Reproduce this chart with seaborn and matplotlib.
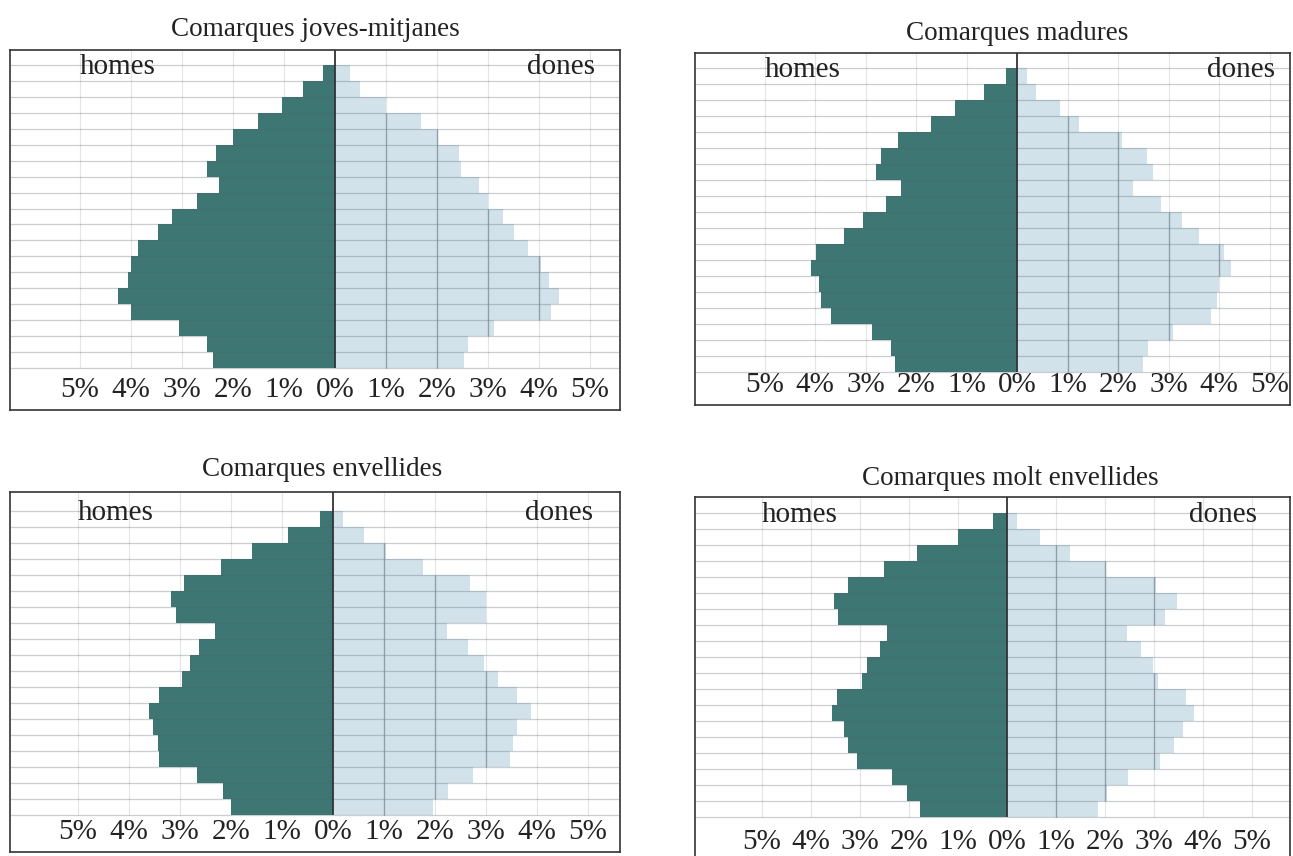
import numpy as np
import pandas as pd
import matplotlib.pyplot as plt
from matplotlib.collections import LineCollection
import seaborn as sns

# Age groups, top (oldest) to bottom (youngest)
edats = ['90+', '85-89', '80-84', '75-79', '70-74', '65-69', '60-64', '55-59', '50-54', '45-49',
         '40-44', '35-39', '30-34', '25-29', '20-24', '15-19', '10-14', '5-9', '0-4']

# % of population
homes_joves = [0.24, 0.63, 1.04, 1.5, 2.0, 2.33, 2.5, 2.27, 2.7, 3.2,
               3.47, 3.86, 4.0, 4.06, 4.25, 4.0, 3.06, 2.5, 2.4]
dones_joves = [0.3, 0.5, 1.0, 1.69, 2.02, 2.43, 2.47, 2.82, 3.0, 3.3,
               3.5, 3.78, 4.04, 4.2, 4.4, 4.23, 3.12, 2.6, 2.53]

homes_madures = [0.22, 0.65, 1.23, 1.71, 2.35, 2.69, 2.8, 2.3, 2.6, 3.04,
                 3.42, 3.98, 4.08, 3.92, 3.88, 3.69, 2.88, 2.5, 2.42]
dones_madures = [0.2, 0.38, 0.86, 1.23, 2.08, 2.58, 2.69, 2.3, 2.85, 3.27,
                 3.6, 4.1, 4.23, 4.0, 3.96, 3.85, 3.08, 2.6, 2.5]

homes_envellides = [0.25, 0.88, 1.58, 2.19, 2.92, 3.17, 3.08, 2.31, 2.62, 2.81,
                    2.96, 3.42, 3.6, 3.52, 3.44, 3.42, 2.67, 2.16, 2.0]
dones_envellides = [0.2, 0.6, 1.04, 1.77, 2.69, 3.0, 3.0, 2.23, 2.65, 2.96,
                    3.23, 3.6, 3.88, 3.6, 3.53, 3.47, 2.75, 2.25, 1.96]

homes_molt = [0.28, 1.0, 1.84, 2.52, 3.25, 3.53, 3.44, 2.44, 2.59, 2.85,
              2.95, 3.46, 3.58, 3.33, 3.25, 3.06, 2.35, 2.04, 1.78]
dones_molt = [0.2, 0.68, 1.28, 2.03, 3.05, 3.46, 3.23, 2.44, 2.74, 2.97,
              3.08, 3.65, 3.82, 3.6, 3.4, 3.12, 2.47, 2.04, 1.86]

titols = ['Comarques joves-mitjanes', 'Comarques madures',
          'Comarques envellides', 'Comarques molt envellides']
ticks = [-5, -4, -3, -2, -1, 0, 1, 2, 3, 4, 5]

COL_H = '#3e7674'
COL_D = '#d2e2ea'

W, H = 1293, 856

# layout in pixels: box (l, t, r, b), centre x, px per 1%, bars top/bottom, title (x, y)
layout = [
    dict(box=(10, 50, 620, 410), cx=335, ppp=51, bars=(65, 368), tit=(315, 30)),
    dict(box=(695, 53, 1290, 405), cx=1017, ppp=50.5, bars=(68, 372), tit=(1017, 33)),
    dict(box=(10, 492, 620, 852), cx=333, ppp=51, bars=(511, 815), tit=(322, 470)),
    dict(box=(695, 497, 1290, 862), cx=1007, ppp=49, bars=(513, 817), tit=(1010, 478)),
]

sns.set_style('white')
plt.rcParams['font.family'] = ['Liberation Serif', 'DejaVu Serif']
plt.rcParams['text.color'] = '#222222'

fig = plt.figure(figsize=(W / 100, H / 100), dpi=100)


def piramide(homes, dones, titol, lay):
    l, t, r, b = lay['box']
    bt, bb = lay['bars']
    ax = fig.add_axes([l / W, 1 - b / H, (r - l) / W, (b - t) / H])

    df = pd.DataFrame({'edat': edats, 'homes': -np.array(homes), 'dones': dones})
    sns.barplot(data=df, x='homes', y='edat', orient='h', color=COL_H, width=1.0,
                saturation=1, linewidth=0, edgecolor='none', ax=ax, zorder=2)
    sns.barplot(data=df, x='dones', y='edat', orient='h', color=COL_D, width=1.0,
                saturation=1, linewidth=0, edgecolor='none', ax=ax, zorder=2)

    rh = (bb - bt) / len(edats)
    ytop = -0.5 - (bt - t) / rh
    ybot = len(edats) - 0.5 + (b - bb) / rh
    x0 = -(lay['cx'] - l) / lay['ppp']
    x1 = (r - lay['cx']) / lay['ppp']
    ax.set_xlim(x0, x1)
    ax.set_ylim(ybot, ytop)
    yend = len(edats) - 0.5

    # grid
    ax.vlines([k for k in ticks if k != 0], ytop, yend, color='#e4e4e4', lw=0.8, zorder=0.5)
    segs = []
    for i, v in enumerate(dones):
        for k in range(1, 6):
            if k < v:
                segs.append([(k, i - 0.5), (k, i + 0.5)])
    ax.add_collection(LineCollection(segs, colors='#8ea1a9', lw=1.0, zorder=3))
    ax.hlines(np.arange(-0.5, len(edats)), x0, x1, color='#4f5f66', alpha=0.3, lw=0.9, zorder=3)
    ax.vlines(0, ytop, yend, color='#333333', lw=1.3, zorder=4)

    # labels inside the box
    ylab = yend + (b - 20 - bb) / rh
    for k in ticks:
        ax.text(k, ylab, f'{abs(k)}%', ha='center', va='center', fontsize=21)
    ax.text(-5, 0.05, 'homes', ha='left', va='baseline', fontsize=21)
    ax.text(5.1, 0.05, 'dones', ha='right', va='baseline', fontsize=21)

    ax.set(xlabel='', ylabel='', xticks=[], yticks=[])
    for s in ax.spines.values():
        s.set_color('#333333')
        s.set_linewidth(1.2)

    fig.text(lay['tit'][0] / W, 1 - lay['tit'][1] / H, titol,
             ha='center', va='center', fontsize=19.5)


piramide(homes_joves, dones_joves, titols[0], layout[0])
piramide(homes_madures, dones_madures, titols[1], layout[1])
piramide(homes_envellides, dones_envellides, titols[2], layout[2])
piramide(homes_molt, dones_molt, titols[3], layout[3])

fig.savefig('out.png', dpi=100)
